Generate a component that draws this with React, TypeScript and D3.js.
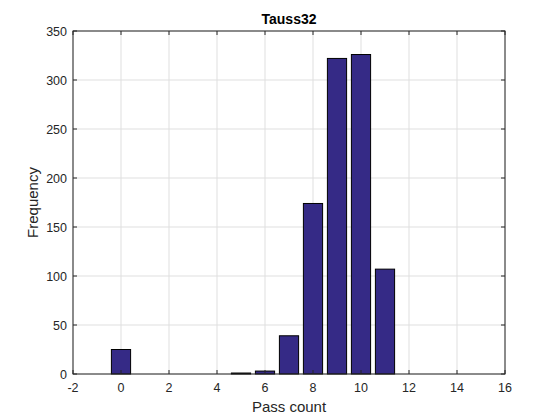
import React from "react";
import * as d3 from "d3";

const binCenters = [0, 5, 6, 7, 8, 9, 10, 11];
const frequencies = [25, 1, 3, 39, 174, 322, 326, 107];
const xTicks = [-2, 0, 2, 4, 6, 8, 10, 12, 14, 16];
const yTicks = [0, 50, 100, 150, 200, 250, 300, 350];
const titleText = "Tauss32";
const xLabel = "Pass count";
const yLabel = "Frequency";

export default function App() {
  const W = 560, H = 420;
  const L = 73, R = 505, T = 31, B = 374;
  const x = d3.scaleLinear().domain([-2, 16]).range([L, R]);
  const y = d3.scaleLinear().domain([0, 350]).range([B, T]);
  const bw = x(0.8) - x(0);
  const font = "Liberation Sans, Arial, sans-serif";
  const tc = "#262626";
  return (
    <svg width={W} height={H} style={{ position: "absolute", left: 0, top: 0, background: "#fff" }}>
      <rect x={0} y={0} width={W} height={H} fill="#fff" />
      {xTicks.map((t) => (
        <line key={"gx" + t} x1={x(t)} x2={x(t)} y1={T} y2={B} stroke="#dfdfdf" strokeWidth={1} />
      ))}
      {yTicks.map((t) => (
        <line key={"gy" + t} x1={L} x2={R} y1={y(t)} y2={y(t)} stroke="#dfdfdf" strokeWidth={1} />
      ))}
      {binCenters.map((c, i) => (
        <rect key={"b" + c} x={x(c) - bw / 2} y={y(frequencies[i])} width={bw} height={y(0) - y(frequencies[i])}
          fill="#352a86" stroke="#000" strokeWidth={1} />
      ))}
      <rect x={L} y={T} width={R - L} height={B - T} fill="none" stroke={tc} strokeWidth={1} />
      {xTicks.map((t) => (
        <g key={"tx" + t}>
          <line x1={x(t)} x2={x(t)} y1={B} y2={B - 4} stroke={tc} />
          <line x1={x(t)} x2={x(t)} y1={T} y2={T + 4} stroke={tc} />
          <text x={x(t)} y={B + 18} textAnchor="middle" fontSize={12.5} fontFamily={font} fill={tc}>{t}</text>
        </g>
      ))}
      {yTicks.map((t) => (
        <g key={"ty" + t}>
          <line x1={L} x2={L + 4} y1={y(t)} y2={y(t)} stroke={tc} />
          <line x1={R} x2={R - 4} y1={y(t)} y2={y(t)} stroke={tc} />
          <text x={L - 6} y={y(t) + 4.5} textAnchor="end" fontSize={12.5} fontFamily={font} fill={tc}>{t}</text>
        </g>
      ))}
      <text x={(L + R) / 2} y={24} textAnchor="middle" fontSize={14} fontWeight="bold" fontFamily={font} fill="#000">{titleText}</text>
      <text x={(L + R) / 2} y={412} textAnchor="middle" fontSize={15} fontFamily={font} fill={tc}>{xLabel}</text>
      <text transform={`translate(38, ${(T + B) / 2}) rotate(-90)`} textAnchor="middle" fontSize={15} fontFamily={font} fill={tc}>{yLabel}</text>
    </svg>
  );
}
